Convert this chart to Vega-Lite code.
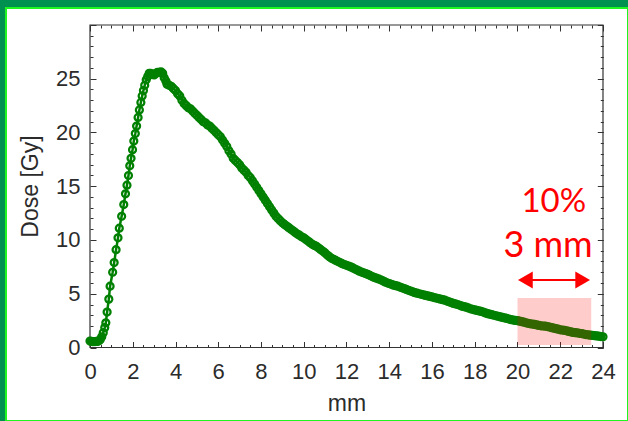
{
  "$schema": "https://vega.github.io/schema/vega-lite/v6.json",
  "width": 622,
  "height": 413,
  "autosize": {"type": "none"},
  "padding": {"left": 6, "top": 8, "right": 0, "bottom": 0},
  "background": "#00904f",
  "config": {
    "view": {"fill": "white", "stroke": "#1ff51f", "strokeWidth": 2},
    "axis": {
      "labelFont": "Liberation Sans",
      "titleFont": "Liberation Sans",
      "labelFontSize": 22,
      "titleFontSize": 23,
      "labelColor": "#2b2b2b",
      "titleColor": "#2b2b2b",
      "titleFontWeight": "normal",
      "domain": false,
      "grid": false,
      "tickColor": "#333333",
      "tickWidth": 1,
      "labelOverlap": false,
      "labelFlush": false,
      "labelBound": false
    }
  },
  "data": {
    "values": [
      {"x": 0.00, "y": 0.60}, {"x": 0.06, "y": 0.57}, {"x": 0.12, "y": 0.55}, {"x": 0.18, "y": 0.55},
      {"x": 0.24, "y": 0.55}, {"x": 0.30, "y": 0.56}, {"x": 0.36, "y": 0.58}, {"x": 0.42, "y": 0.62},
      {"x": 0.48, "y": 0.75}, {"x": 0.55, "y": 1.0}, {"x": 0.62, "y": 1.38}, {"x": 0.69, "y": 1.85},
      {"x": 0.74, "y": 2.3}, {"x": 0.80, "y": 3.3}, {"x": 0.88, "y": 4.5}, {"x": 0.94, "y": 5.7},
      {"x": 1.06, "y": 7.0}, {"x": 1.13, "y": 7.9}, {"x": 1.22, "y": 9.1}, {"x": 1.31, "y": 10.2},
      {"x": 1.37, "y": 11.1}, {"x": 1.48, "y": 12.2}, {"x": 1.58, "y": 13.3}, {"x": 1.66, "y": 14.3},
      {"x": 1.73, "y": 15.1}, {"x": 1.80, "y": 16.0}, {"x": 1.86, "y": 16.9}, {"x": 1.92, "y": 17.6},
      {"x": 1.99, "y": 18.4}, {"x": 2.05, "y": 19.2}, {"x": 2.12, "y": 19.9}, {"x": 2.18, "y": 20.6},
      {"x": 2.25, "y": 21.4}, {"x": 2.31, "y": 22.1}, {"x": 2.38, "y": 22.8}, {"x": 2.44, "y": 23.4},
      {"x": 2.50, "y": 23.9}, {"x": 2.56, "y": 24.4}, {"x": 2.63, "y": 24.9}, {"x": 2.70, "y": 25.2},
      {"x": 2.77, "y": 25.5}, {"x": 2.84, "y": 25.5}, {"x": 2.92, "y": 25.4}, {"x": 3.00, "y": 25.35},
      {"x": 3.08, "y": 25.5}, {"x": 3.16, "y": 25.6}, {"x": 3.24, "y": 25.6}, {"x": 3.32, "y": 25.65},
      {"x": 3.40, "y": 25.5}, {"x": 3.47, "y": 25.1}, {"x": 3.55, "y": 24.8},
      {"x": 3.6, "y": 24.5}, {"x": 3.7, "y": 24.4}, {"x": 3.8, "y": 24.3}, {"x": 3.9, "y": 24.1},
      {"x": 4.0, "y": 23.9}, {"x": 4.1, "y": 23.6}, {"x": 4.2, "y": 23.4}, {"x": 4.3, "y": 23.0},
      {"x": 4.4, "y": 22.7}, {"x": 4.5, "y": 22.5}, {"x": 4.6, "y": 22.3}, {"x": 4.7, "y": 22.2},
      {"x": 4.8, "y": 22.0}, {"x": 4.9, "y": 21.8}, {"x": 5.0, "y": 21.6}, {"x": 5.1, "y": 21.4},
      {"x": 5.2, "y": 21.2}, {"x": 5.3, "y": 21.0}, {"x": 5.4, "y": 20.9}, {"x": 5.5, "y": 20.7},
      {"x": 5.6, "y": 20.6}, {"x": 5.7, "y": 20.4}, {"x": 5.8, "y": 20.2}, {"x": 5.9, "y": 20.0},
      {"x": 6.0, "y": 19.8}, {"x": 6.1, "y": 19.6}, {"x": 6.2, "y": 19.3}, {"x": 6.3, "y": 19.0},
      {"x": 6.4, "y": 18.7}, {"x": 6.5, "y": 18.3}, {"x": 6.6, "y": 18.0}, {"x": 6.7, "y": 17.6},
      {"x": 6.8, "y": 17.4}, {"x": 6.9, "y": 17.2}, {"x": 7.0, "y": 17.0}, {"x": 7.1, "y": 16.7},
      {"x": 7.2, "y": 16.5}, {"x": 7.3, "y": 16.3}, {"x": 7.4, "y": 16.0}, {"x": 7.5, "y": 15.8},
      {"x": 7.6, "y": 15.5}, {"x": 7.7, "y": 15.2}, {"x": 7.8, "y": 14.9}, {"x": 7.9, "y": 14.6},
      {"x": 8.0, "y": 14.3}, {"x": 8.1, "y": 14.0}, {"x": 8.2, "y": 13.7}, {"x": 8.3, "y": 13.4},
      {"x": 8.4, "y": 13.1}, {"x": 8.5, "y": 12.8}, {"x": 8.6, "y": 12.5}, {"x": 8.7, "y": 12.2},
      {"x": 8.8, "y": 12.0}, {"x": 8.9, "y": 11.8}, {"x": 9.0, "y": 11.6}, {"x": 9.1, "y": 11.45},
      {"x": 9.2, "y": 11.3}, {"x": 9.3, "y": 11.15}, {"x": 9.4, "y": 11.0}, {"x": 9.5, "y": 10.85},
      {"x": 9.6, "y": 10.7}, {"x": 9.7, "y": 10.55}, {"x": 9.8, "y": 10.45}, {"x": 9.9, "y": 10.3},
      {"x": 10.0, "y": 10.2}, {"x": 10.1, "y": 10.05}, {"x": 10.2, "y": 9.9}, {"x": 10.3, "y": 9.75},
      {"x": 10.4, "y": 9.6}, {"x": 10.5, "y": 9.5}, {"x": 10.6, "y": 9.4}, {"x": 10.7, "y": 9.25},
      {"x": 10.8, "y": 9.1}, {"x": 10.9, "y": 8.95}, {"x": 11.0, "y": 8.8}, {"x": 11.1, "y": 8.6},
      {"x": 11.2, "y": 8.45}, {"x": 11.3, "y": 8.3}, {"x": 11.4, "y": 8.2}, {"x": 11.5, "y": 8.1},
      {"x": 11.6, "y": 8.0}, {"x": 11.7, "y": 7.9}, {"x": 11.8, "y": 7.8}, {"x": 11.9, "y": 7.72},
      {"x": 12.0, "y": 7.65}, {"x": 12.1, "y": 7.58}, {"x": 12.2, "y": 7.5}, {"x": 12.3, "y": 7.4},
      {"x": 12.4, "y": 7.3}, {"x": 12.5, "y": 7.2}, {"x": 12.6, "y": 7.1}, {"x": 12.7, "y": 7.02},
      {"x": 12.8, "y": 6.95}, {"x": 12.9, "y": 6.88}, {"x": 13.0, "y": 6.8}, {"x": 13.1, "y": 6.7},
      {"x": 13.2, "y": 6.6}, {"x": 13.3, "y": 6.52}, {"x": 13.4, "y": 6.45}, {"x": 13.5, "y": 6.38},
      {"x": 13.6, "y": 6.3}, {"x": 13.7, "y": 6.2}, {"x": 13.8, "y": 6.1}, {"x": 13.9, "y": 6.02},
      {"x": 14.0, "y": 5.95}, {"x": 14.1, "y": 5.88}, {"x": 14.2, "y": 5.8}, {"x": 14.3, "y": 5.75},
      {"x": 14.4, "y": 5.7}, {"x": 14.5, "y": 5.62}, {"x": 14.6, "y": 5.55}, {"x": 14.7, "y": 5.48},
      {"x": 14.8, "y": 5.4}, {"x": 14.9, "y": 5.32}, {"x": 15.0, "y": 5.25}, {"x": 15.1, "y": 5.18},
      {"x": 15.2, "y": 5.1}, {"x": 15.3, "y": 5.05}, {"x": 15.4, "y": 5.0}, {"x": 15.5, "y": 4.95},
      {"x": 15.6, "y": 4.9}, {"x": 15.7, "y": 4.85}, {"x": 15.8, "y": 4.8}, {"x": 15.9, "y": 4.75},
      {"x": 16.0, "y": 4.7}, {"x": 16.1, "y": 4.65}, {"x": 16.2, "y": 4.6}, {"x": 16.3, "y": 4.55},
      {"x": 16.4, "y": 4.5}, {"x": 16.5, "y": 4.45}, {"x": 16.6, "y": 4.4}, {"x": 16.7, "y": 4.32},
      {"x": 16.8, "y": 4.25}, {"x": 16.9, "y": 4.18}, {"x": 17.0, "y": 4.1}, {"x": 17.1, "y": 4.05},
      {"x": 17.2, "y": 4.0}, {"x": 17.3, "y": 3.92}, {"x": 17.4, "y": 3.85}, {"x": 17.5, "y": 3.8},
      {"x": 17.6, "y": 3.75}, {"x": 17.7, "y": 3.68}, {"x": 17.8, "y": 3.6}, {"x": 17.9, "y": 3.55},
      {"x": 18.0, "y": 3.5}, {"x": 18.1, "y": 3.45}, {"x": 18.2, "y": 3.4}, {"x": 18.3, "y": 3.35},
      {"x": 18.4, "y": 3.3}, {"x": 18.5, "y": 3.22}, {"x": 18.6, "y": 3.15}, {"x": 18.7, "y": 3.1},
      {"x": 18.8, "y": 3.05}, {"x": 18.9, "y": 3.0}, {"x": 19.0, "y": 2.95}, {"x": 19.1, "y": 2.9},
      {"x": 19.2, "y": 2.85}, {"x": 19.3, "y": 2.8}, {"x": 19.4, "y": 2.75}, {"x": 19.5, "y": 2.7},
      {"x": 19.6, "y": 2.65}, {"x": 19.7, "y": 2.6}, {"x": 19.8, "y": 2.55}, {"x": 19.9, "y": 2.52},
      {"x": 20.0, "y": 2.5}, {"x": 20.1, "y": 2.45}, {"x": 20.2, "y": 2.4}, {"x": 20.3, "y": 2.35},
      {"x": 20.4, "y": 2.3}, {"x": 20.5, "y": 2.25}, {"x": 20.6, "y": 2.2}, {"x": 20.7, "y": 2.18},
      {"x": 20.8, "y": 2.15}, {"x": 20.9, "y": 2.1}, {"x": 21.0, "y": 2.05}, {"x": 21.1, "y": 2.02},
      {"x": 21.2, "y": 2.0}, {"x": 21.3, "y": 1.98}, {"x": 21.4, "y": 1.95}, {"x": 21.5, "y": 1.9},
      {"x": 21.6, "y": 1.85}, {"x": 21.7, "y": 1.8}, {"x": 21.8, "y": 1.75}, {"x": 21.9, "y": 1.7},
      {"x": 22.0, "y": 1.65}, {"x": 22.1, "y": 1.62}, {"x": 22.2, "y": 1.6}, {"x": 22.3, "y": 1.55},
      {"x": 22.4, "y": 1.5}, {"x": 22.5, "y": 1.45}, {"x": 22.6, "y": 1.4}, {"x": 22.7, "y": 1.38},
      {"x": 22.8, "y": 1.35}, {"x": 22.9, "y": 1.32}, {"x": 23.0, "y": 1.3}, {"x": 23.1, "y": 1.25},
      {"x": 23.2, "y": 1.2}, {"x": 23.3, "y": 1.18}, {"x": 23.4, "y": 1.15}, {"x": 23.5, "y": 1.12},
      {"x": 23.6, "y": 1.1}, {"x": 23.7, "y": 1.08}, {"x": 23.8, "y": 1.05}, {"x": 23.9, "y": 1.02},
      {"x": 24.0, "y": 1.0}
    ]
  },
  "resolve": {"axis": {"x": "independent", "y": "independent"}},
  "layer": [
    {
      "data": {"values": [{}]},
      "mark": {"type": "rect", "fillOpacity": 0, "fill": "white", "stroke": "#333333", "strokeWidth": 1.2},
      "encoding": {
        "x": {
          "datum": 0, "type": "quantitative",
          "scale": {"domain": [-3.93, 25.17], "nice": false, "zero": false},
          "axis": {
            "orient": "bottom", "offset": -73.5,
            "values": [0,0.5,1,1.5,2,2.5,3,3.5,4,4.5,5,5.5,6,6.5,7,7.5,8,8.5,9,9.5,10,10.5,11,11.5,12,12.5,13,13.5,14,14.5,15,15.5,16,16.5,17,17.5,18,18.5,19,19.5,20,20.5,21,21.5,22,22.5,23,23.5,24],
            "labelExpr": "datum.value % 2 === 0 ? format(datum.value, 'd') : ''",
            "tickSize": {"condition": {"test": "datum.value % 2 === 0", "value": -6}, "value": -3},
            "labelPadding": 20,
            "title": "mm", "titleX": 340.5, "titleY": 62.5, "titleBaseline": "alphabetic", "titleAlign": "center"
          }
        },
        "x2": {"datum": 24},
        "y": {
          "datum": 0, "type": "quantitative",
          "scale": {"domain": [-6.837, 31.581], "nice": false, "zero": false},
          "axis": {
            "orient": "left", "offset": -84,
            "values": [0,1,2,3,4,5,6,7,8,9,10,11,12,13,14,15,16,17,18,19,20,21,22,23,24,25,26,27,28,29,30],
            "labelExpr": "datum.value % 5 === 0 && datum.value < 30 ? format(datum.value, 'd') : ''",
            "tickSize": {"condition": {"test": "datum.value % 5 === 0", "value": -6}, "value": -3},
            "labelPadding": 16,
            "title": "Dose [Gy]", "titleX": -53, "titleY": 178, "titleBaseline": "alphabetic", "titleAlign": "center", "titleAngle": -90
          }
        },
        "y2": {"datum": 30}
      }
    },
    {
      "mark": {"type": "line", "color": "#008000", "strokeWidth": 2.5},
      "encoding": {
        "x": {
          "field": "x", "type": "quantitative",
          "scale": {"domain": [-3.93, 25.17], "nice": false, "zero": false},
          "axis": {
            "orient": "top", "offset": -17, "labels": false, "title": null,
            "values": [0,0.5,1,1.5,2,2.5,3,3.5,4,4.5,5,5.5,6,6.5,7,7.5,8,8.5,9,9.5,10,10.5,11,11.5,12,12.5,13,13.5,14,14.5,15,15.5,16,16.5,17,17.5,18,18.5,19,19.5,20,20.5,21,21.5,22,22.5,23,23.5,24],
            "tickSize": {"condition": {"test": "datum.value % 2 === 0", "value": -6}, "value": -3}
          }
        },
        "y": {
          "field": "y", "type": "quantitative",
          "scale": {"domain": [-6.837, 31.581], "nice": false, "zero": false},
          "axis": {
            "orient": "right", "offset": -24.7, "labels": false, "title": null,
            "values": [0,1,2,3,4,5,6,7,8,9,10,11,12,13,14,15,16,17,18,19,20,21,22,23,24,25,26,27,28,29,30],
            "tickSize": {"condition": {"test": "datum.value % 5 === 0", "value": -6}, "value": -3}
          }
        }
      }
    },
    {
      "mark": {"type": "point", "filled": false, "stroke": "#008000", "strokeWidth": 2.3, "size": 48, "opacity": 1},
      "encoding": {
        "x": {"field": "x", "type": "quantitative", "scale": {"domain": [-3.93, 25.17], "nice": false, "zero": false}, "axis": null},
        "y": {"field": "y", "type": "quantitative", "scale": {"domain": [-6.837, 31.581], "nice": false, "zero": false}, "axis": null}
      }
    },
    {
      "data": {"values": [{}]},
      "mark": {"type": "rect", "fill": "#ff0000", "opacity": 0.2},
      "encoding": {
        "x": {"datum": 20, "type": "quantitative", "scale": {"domain": [-3.93, 25.17], "nice": false, "zero": false}, "axis": null},
        "x2": {"datum": 23.45},
        "y": {"datum": 0.23, "type": "quantitative", "scale": {"domain": [-6.837, 31.581], "nice": false, "zero": false}, "axis": null},
        "y2": {"datum": 4.6}
      }
    },
    {
      "data": {"values": [{}]},
      "mark": {"type": "rule", "color": "#ff0000", "strokeWidth": 2},
      "encoding": {
        "x": {"datum": 20.3, "type": "quantitative", "scale": {"domain": [-3.93, 25.17], "nice": false, "zero": false}, "axis": null},
        "x2": {"datum": 23.1},
        "y": {"datum": 6.28, "type": "quantitative", "scale": {"domain": [-6.837, 31.581], "nice": false, "zero": false}, "axis": null}
      }
    },
    {
      "data": {"values": [{}]},
      "mark": {"type": "point", "shape": "triangle-left", "filled": true, "color": "#ff0000", "size": 290, "opacity": 1},
      "encoding": {
        "x": {"datum": 20.37, "type": "quantitative", "scale": {"domain": [-3.93, 25.17], "nice": false, "zero": false}, "axis": null},
        "y": {"datum": 6.28, "type": "quantitative", "scale": {"domain": [-6.837, 31.581], "nice": false, "zero": false}, "axis": null}
      }
    },
    {
      "data": {"values": [{}]},
      "mark": {"type": "point", "shape": "triangle-right", "filled": true, "color": "#ff0000", "size": 290, "opacity": 1},
      "encoding": {
        "x": {"datum": 23.05, "type": "quantitative", "scale": {"domain": [-3.93, 25.17], "nice": false, "zero": false}, "axis": null},
        "y": {"datum": 6.28, "type": "quantitative", "scale": {"domain": [-6.837, 31.581], "nice": false, "zero": false}, "axis": null}
      }
    },
    {
      "data": {"values": [{}]},
      "mark": {"type": "text", "text": "10%", "color": "#ff0000", "font": "Lato", "fontSize": 33, "align": "center", "baseline": "alphabetic"},
      "encoding": {
        "x": {"datum": 21.7, "type": "quantitative", "scale": {"domain": [-3.93, 25.17], "nice": false, "zero": false}, "axis": null},
        "y": {"datum": 12.6, "type": "quantitative", "scale": {"domain": [-6.837, 31.581], "nice": false, "zero": false}, "axis": null}
      }
    },
    {
      "data": {"values": [{}]},
      "mark": {"type": "text", "text": "3 mm", "color": "#ff0000", "font": "Lato", "fontSize": 36, "align": "center", "baseline": "alphabetic"},
      "encoding": {
        "x": {"datum": 21.43, "type": "quantitative", "scale": {"domain": [-3.93, 25.17], "nice": false, "zero": false}, "axis": null},
        "y": {"datum": 8.42, "type": "quantitative", "scale": {"domain": [-6.837, 31.581], "nice": false, "zero": false}, "axis": null}
      }
    }
  ]
}
